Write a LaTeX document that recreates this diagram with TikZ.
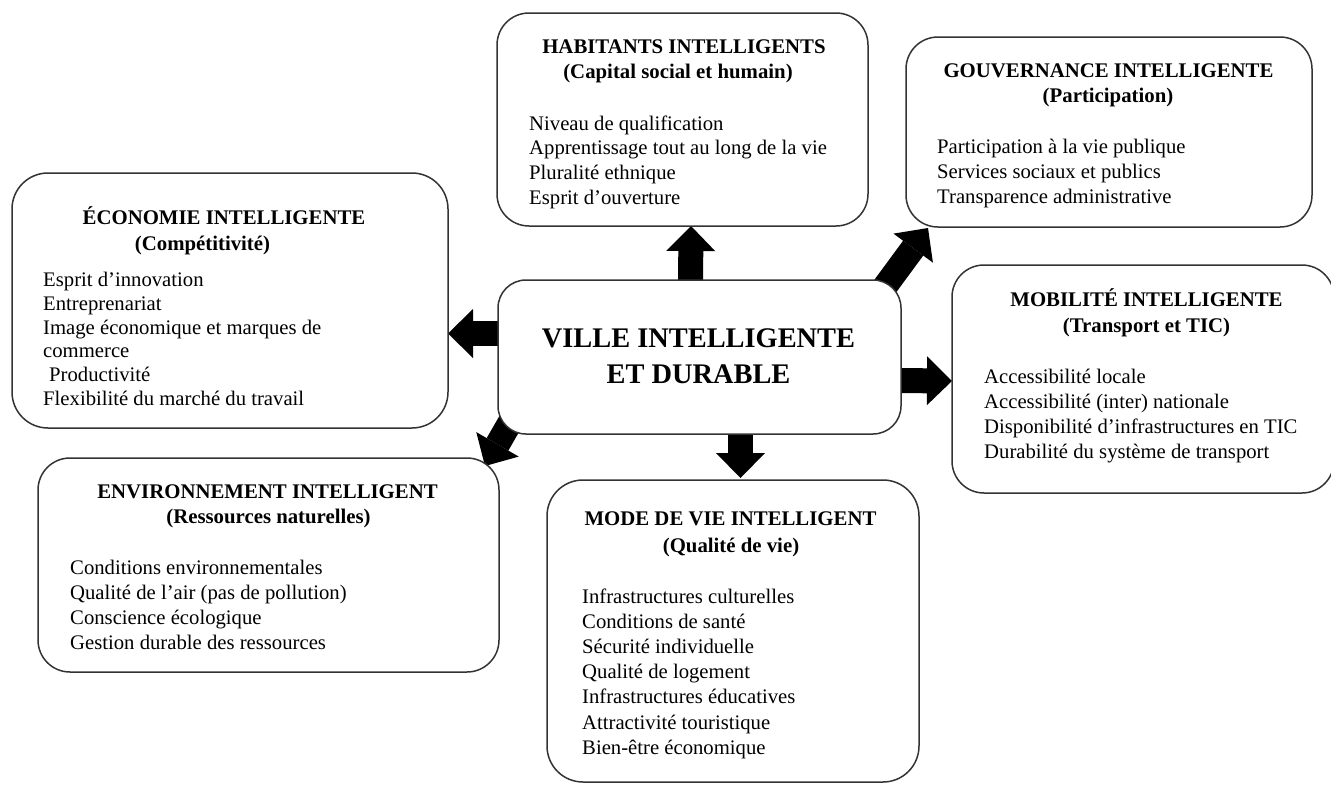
\documentclass[tikz,border=0pt]{standalone}
\usepackage{fontspec}
\setmainfont{Liberation Serif}
\usetikzlibrary{arrows.meta,backgrounds}
\tikzset{
  box/.style={draw=black!80, line width=1.5pt, rounded corners=32pt, fill=white, inner sep=0pt, outer sep=0pt},
  ttl/.style={font=\fontsize{20.8}{25}\selectfont\bfseries, anchor=base, inner sep=0pt},
  item/.style={font=\fontsize{20.7}{25}\selectfont, anchor=base west, inner sep=0pt},
  bigttl/.style={font=\fontsize{28.4}{37}\selectfont\bfseries, anchor=base, inner sep=0pt},
  barrow/.style={line width=25pt, black, -{Triangle[length=25pt,width=49pt,line width=0pt]}}
}
\begin{document}
\begin{tikzpicture}[x=1pt,y=-1pt]
\useasboundingbox (0,0) rectangle (1331,785);
% boxes
\node[box, minimum width=371pt, minimum height=213pt] (hab) at (682.5,119.5) {};
\node[box, minimum width=406pt, minimum height=190pt] (gov) at (1109,132) {};
\node[box, minimum width=436pt, minimum height=255pt, rounded corners=36pt] (eco) at (230,300.5) {};
\node[box, minimum width=403pt, minimum height=154pt, rounded corners=28pt] (c) at (699.5,357) {};
\node[box, minimum width=382pt, minimum height=228pt] (mob) at (1143,379) {};
\node[box, minimum width=461pt, minimum height=214pt] (env) at (268.5,565) {};
\node[box, minimum width=372pt, minimum height=302pt, rounded corners=36pt] (mode) at (733,631) {};
% arrows
\begin{pgfonlayer}{background}
\fill[white] (0,0) rectangle (1331,785);
\draw[barrow] ([xshift=-9pt,yshift=-6pt]c.north) -- ([xshift=8.5pt]hab.south);
\draw[barrow] ([xshift=-26pt,yshift=-20pt]c.north east) -- ([xshift=22pt,yshift=-1pt]gov.south west);
\draw[barrow] ([xshift=-6pt,yshift=-23.5pt]c.east) -- ([yshift=-2pt]mob.west);
\draw[barrow] ([xshift=41pt,yshift=6pt]c.south) -- ([xshift=7.5pt,yshift=2pt]mode.north);
\draw[barrow] ([xshift=6pt,yshift=23.5pt]c.west) -- ([yshift=-33pt]eco.east);
\draw[barrow] ([xshift=17pt,yshift=20pt]c.south west) -- ([xshift=-14pt,yshift=-8pt]env.north east);
\end{pgfonlayer}
% centre
\node[bigttl] (c1) at (698.5,347) {VILLE INTELLIGENTE};
\node[bigttl] (c2) at (698.5,383) {ET DURABLE};
% habitants
\node[ttl] (hab-t1) at (684,53) {HABITANTS INTELLIGENTS};
\node[ttl] (hab-t2) at (678,78) {(Capital social et humain)};
\foreach \t [count=\i] in {Niveau de qualification, Apprentissage tout au long de la vie, Pluralité ethnique, Esprit d’ouverture}
  \node[item] (hab-\i) at (529,{130+24.7*(\i-1)}) {\t};
% gouvernance
\node[ttl] (gov-t1) at (1108.5,77) {GOUVERNANCE INTELLIGENTE};
\node[ttl] (gov-t2) at (1108,102.7) {(Participation)};
\foreach \t [count=\i] in {Participation à la vie publique, Services sociaux et publics, Transparence administrative}
  \node[item] (gov-\i) at (937,{153+25*(\i-1)}) {\t};
% economie
\node[ttl] (eco-t1) at (224,224) {ÉCONOMIE INTELLIGENTE};
\node[ttl] (eco-t2) at (202.5,250) {(Compétitivité)};
\foreach \t [count=\i] in {Esprit d’innovation, Entreprenariat, Image économique et marques de, commerce, {\hspace{6pt}Productivité}, Flexibilité du marché du travail}
  \node[item] (eco-\i) at (43,{286.5+23.8*(\i-1)}) {\t};
% mobilite
\node[ttl] (mob-t1) at (1146.5,306) {MOBILITÉ INTELLIGENTE};
\node[ttl] (mob-t2) at (1146.5,332) {(Transport et TIC)};
\foreach \t [count=\i] in {Accessibilité locale, Accessibilité (inter) nationale, Disponibilité d’infrastructures en TIC, Durabilité du système de transport}
  \node[item] (mob-\i) at (984,{383+25.3*(\i-1)}) {\t};
% environnement
\node[ttl] (env-t1) at (267.5,498) {ENVIRONNEMENT INTELLIGENT};
\node[ttl] (env-t2) at (268.5,523) {(Ressources naturelles)};
\foreach \t [count=\i] in {Conditions environnementales, Qualité de l’air (pas de pollution), Conscience écologique, Gestion durable des ressources}
  \node[item] (env-\i) at (70,{574+25.3*(\i-1)}) {\t};
% mode de vie
\node[ttl] (mode-t1) at (730.5,525) {MODE DE VIE INTELLIGENT};
\node[ttl] (mode-t2) at (731,552) {(Qualité de vie)};
\foreach \t [count=\i] in {Infrastructures culturelles, Conditions de santé, Sécurité individuelle, Qualité de logement, Infrastructures éducatives, Attractivité touristique, Bien-être économique}
  \node[item] (mode-\i) at (582,{603+25.2*(\i-1)}) {\t};
\end{tikzpicture}
\end{document}
